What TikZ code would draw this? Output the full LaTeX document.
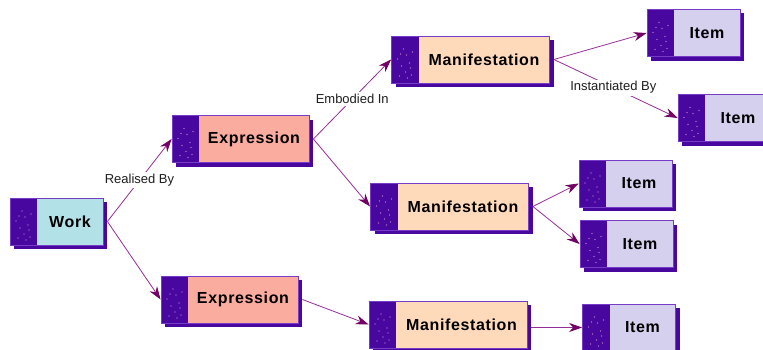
\documentclass[tikz,border=0pt]{standalone}
\usepackage{fontspec}
\setmainfont{Liberation Sans}
\newfontfamily\boxfont[LetterSpace=4]{Liberation Sans}
\usetikzlibrary{arrows.meta,shadows}

\definecolor{blockpurple}{RGB}{72,8,160}
\definecolor{edgepurple}{RGB}{118,60,200}
\definecolor{speck}{RGB}{225,150,205}
\definecolor{workfill}{RGB}{178,226,232}
\definecolor{exprfill}{RGB}{250,172,158}
\definecolor{maniffill}{RGB}{255,218,186}
\definecolor{itemfill}{RGB}{212,208,238}
\definecolor{linkpurple}{RGB}{150,45,150}
\definecolor{tippurple}{RGB}{115,0,100}
\definecolor{labelgray}{RGB}{30,30,30}

\tikzset{
  entity/.style={
    rectangle, draw=edgepurple, line width=0.8pt,
    minimum height=47pt, inner sep=0pt,
    font=\boxfont\fontsize{16}{18}\selectfont\bfseries, text=black,
    general shadow={fill=blockpurple, shadow xshift=4pt, shadow yshift=-4pt},
    path picture={
      \fill[blockpurple] (path picture bounding box.south west)
        rectangle ([xshift=27pt]path picture bounding box.north west);
      \foreach \dx/\dy in {8/7,14/11,10/17,18/20,20/8,6/24,15/28,21/31,12/34,19/15,9/29,16/5}
        \fill[speck] ([shift={(\dx pt,\dy pt)}]path picture bounding box.south west) circle (0.6pt);
    }},
  workbox/.style={entity, fill=workfill, minimum width=93pt},
  exprbox/.style={entity, fill=exprfill, minimum width=137pt},
  manifbox/.style={entity, fill=maniffill, minimum width=158pt},
  itembox/.style={entity, fill=itemfill, minimum width=93pt},
  link/.style={draw=linkpurple, line width=0.8pt,
    -{Stealth[length=13pt,width=9pt,fill=tippurple,color=tippurple]}},
  rel/.style={fill=white, inner sep=2pt,
    font=\fontsize{13}{15}\selectfont, text=labelgray}
}

\newcommand{\lbl}[1]{\hspace*{27pt}#1}

\begin{document}
\begin{tikzpicture}[x=1pt,y=1pt]
  \useasboundingbox (0,0) rectangle (763,349);
  \fill[white] (0,0) rectangle (763,349);

  % entities
  \node[workbox]  (work)  at (56.5,127.5) {\lbl{Work}};
  \node[exprbox]  (expr1) at (240.5,210)  {\lbl{Expression}};
  \node[exprbox]  (expr2) at (229.5,49.5) {\lbl{Expression}};
  \node[manifbox] (man1)  at (470.5,289.5) {\lbl{Manifestation}};
  \node[manifbox] (man2)  at (449.5,142.5) {\lbl{Manifestation}};
  \node[manifbox] (man3)  at (448,24.5)   {\lbl{Manifestation}};
  \node[itembox]  (item1) at (693.5,316)  {\lbl{Item}};
  \node[itembox]  (item2) at (724.5,231)  {\lbl{Item}};
  \node[itembox]  (item3) at (625.5,165.5) {\lbl{Item}};
  \node[itembox]  (item4) at (626.5,105)  {\lbl{Item}};
  \node[itembox]  (item5) at (629,21.5)   {\lbl{Item}};

  % relationships
  \draw[link] ([xshift=4pt]work.east) -- node[rel] {Realised By} (expr1.west);
  \draw[link] ([xshift=4pt]work.east) -- (expr2.west);
  \draw[link] ([xshift=4pt]expr1.east) -- node[rel] {Embodied In} (man1.west);
  \draw[link] ([xshift=4pt]expr1.east) -- (man2.west);
  \draw[link] ([xshift=4pt]expr2.east) -- (man3.west);
  \draw[link] ([xshift=4pt]man1.east) -- (item1.west);
  \draw[link] ([xshift=4pt]man1.east) -- node[rel, pos=0.48] {Instantiated By} (item2.west);
  \draw[link] ([xshift=4pt]man2.east) -- (item3.west);
  \draw[link] ([xshift=4pt]man2.east) -- (item4.west);
  \draw[link] ([xshift=4pt]man3.east |- item5.west) -- (item5.west);
\end{tikzpicture}
\end{document}
